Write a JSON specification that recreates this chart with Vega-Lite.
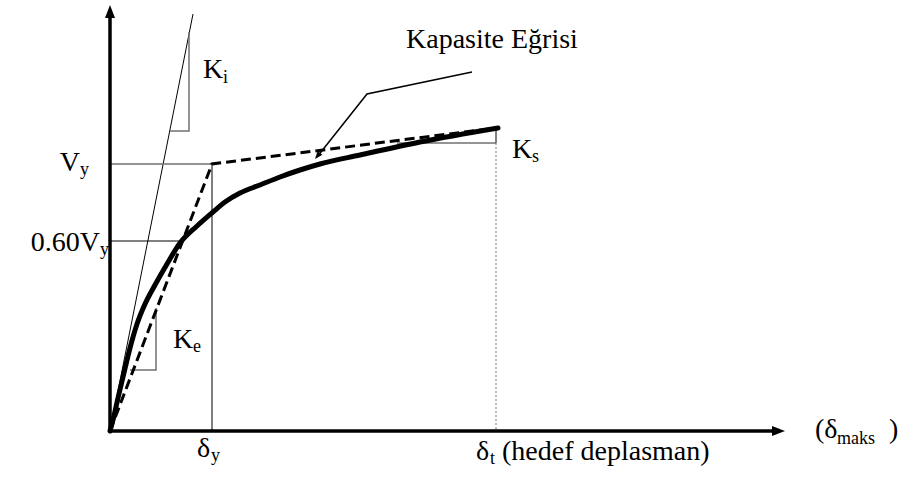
{
  "$schema": "https://vega.github.io/schema/vega-lite/v6.json",
  "width": 905,
  "height": 479,
  "autosize": {"type": "fit", "contains": "padding"},
  "padding": 0,
  "background": "white",
  "config": {"view": {"stroke": null}},
  "datasets": {
    "lines": [
      {"id": "yaxis", "i": 0, "x": 0, "y": 0},
      {"id": "yaxis", "i": 1, "x": 0, "y": 416},
      {"id": "xaxis", "i": 0, "x": 0, "y": 0},
      {"id": "xaxis", "i": 1, "x": 665, "y": 0},
      {"id": "ki", "i": 0, "x": 0, "y": 0},
      {"id": "ki", "i": 1, "x": 83, "y": 417},
      {"id": "ki_tri", "i": 0, "x": 60, "y": 300},
      {"id": "ki_tri", "i": 1, "x": 79, "y": 300},
      {"id": "ki_tri", "i": 2, "x": 79, "y": 399},
      {"id": "ke_tri", "i": 0, "x": 20, "y": 61},
      {"id": "ke_tri", "i": 1, "x": 46, "y": 61},
      {"id": "ke_tri", "i": 2, "x": 46, "y": 123},
      {"id": "ks_tri", "i": 0, "x": 287, "y": 288},
      {"id": "ks_tri", "i": 1, "x": 386, "y": 288},
      {"id": "vy_h", "i": 0, "x": 0, "y": 267},
      {"id": "vy_h", "i": 1, "x": 102, "y": 267},
      {"id": "dy_v", "i": 0, "x": 102, "y": 267},
      {"id": "dy_v", "i": 1, "x": 102, "y": 0},
      {"id": "v60_h", "i": 0, "x": 0, "y": 190},
      {"id": "v60_h", "i": 1, "x": 71, "y": 190},
      {"id": "ks_v", "i": 0, "x": 386, "y": 303},
      {"id": "ks_v", "i": 1, "x": 386, "y": 288},
      {"id": "dt_v", "i": 0, "x": 386, "y": 288},
      {"id": "dt_v", "i": 1, "x": 386, "y": 0},
      {"id": "bilinear", "i": 0, "x": 0, "y": 0},
      {"id": "bilinear", "i": 1, "x": 102, "y": 267},
      {"id": "bilinear", "i": 2, "x": 386, "y": 303},
      {"id": "pointer", "i": 0, "x": 362, "y": 359},
      {"id": "pointer", "i": 1, "x": 257, "y": 337},
      {"id": "pointer", "i": 2, "x": 207, "y": 274}
    ],
    "curve": [
      {"i": 0, "x": 0, "y": 0},
      {"i": 1, "x": 3, "y": 11},
      {"i": 2, "x": 8, "y": 33},
      {"i": 3, "x": 13, "y": 54},
      {"i": 4, "x": 20, "y": 83},
      {"i": 5, "x": 27, "y": 107},
      {"i": 6, "x": 35, "y": 127},
      {"i": 7, "x": 45, "y": 146},
      {"i": 8, "x": 57, "y": 167},
      {"i": 9, "x": 70, "y": 188},
      {"i": 10, "x": 87, "y": 205},
      {"i": 11, "x": 103, "y": 219},
      {"i": 12, "x": 115, "y": 229},
      {"i": 13, "x": 130, "y": 238},
      {"i": 14, "x": 150, "y": 246},
      {"i": 15, "x": 170, "y": 254},
      {"i": 16, "x": 190, "y": 261},
      {"i": 17, "x": 210, "y": 267},
      {"i": 18, "x": 250, "y": 276},
      {"i": 19, "x": 310, "y": 289},
      {"i": 20, "x": 388, "y": 303}
    ],
    "heads": [
      {"id": "yhead", "x": 0, "y": 426, "angle": 0},
      {"id": "xhead", "x": 675, "y": 0, "angle": 90}
    ],
    "pointerhead": [
      {"id": "phead", "x": 205, "y": 272, "angle": 219}
    ],
    "labels_left": [
      {"text": "Kapasite Eğrisi", "x": 296, "y": 383},
      {"text": "K", "x": 93, "y": 353},
      {"text": "K", "x": 63, "y": 83},
      {"text": "K", "x": 402, "y": 273},
      {"text": "δ", "x": 87, "y": -26},
      {"text": "δ", "x": 366, "y": -29},
      {"text": "(hedef deplasman)", "x": 392, "y": -29},
      {"text": "(δ", "x": 705, "y": -7},
      {"text": ")", "x": 779, "y": -7}
    ],
    "labels_right": [
      {"text": "V", "x": -30, "y": 260},
      {"text": "0.60V", "x": -10, "y": 180}
    ],
    "subs": [
      {"text": "y", "x": -30, "y": 256},
      {"text": "y", "x": -10, "y": 176},
      {"text": "i", "x": 113, "y": 348},
      {"text": "e", "x": 83, "y": 79},
      {"text": "s", "x": 422, "y": 269},
      {"text": "y", "x": 101, "y": -30},
      {"text": "t", "x": 380, "y": -33},
      {"text": "maks", "x": 727, "y": -13}
    ]
  },
  "encoding": {
    "x": {"field": "x", "type": "quantitative", "axis": null, "scale": {"domain": [-110, 795], "nice": false, "zero": false}},
    "y": {"field": "y", "type": "quantitative", "axis": null, "scale": {"domain": [-48, 431], "nice": false, "zero": false}}
  },
  "layer": [
    {
      "data": {"name": "lines"},
      "transform": [{"filter": "datum.id === 'ki' || datum.id === 'dy_v' || datum.id === 'v60_h' || datum.id === 'ks_v'"}],
      "mark": {"type": "line", "color": "black", "strokeWidth": 1},
      "encoding": {"detail": {"field": "id"}, "order": {"field": "i", "type": "quantitative"}}
    },
    {
      "data": {"name": "lines"},
      "transform": [{"filter": "datum.id === 'ki_tri' || datum.id === 'ke_tri' || datum.id === 'ks_tri' || datum.id === 'vy_h'"}],
      "mark": {"type": "line", "color": "#707070", "strokeWidth": 1.5},
      "encoding": {"detail": {"field": "id"}, "order": {"field": "i", "type": "quantitative"}}
    },
    {
      "data": {"name": "lines"},
      "transform": [{"filter": "datum.id === 'dt_v'"}],
      "mark": {"type": "line", "color": "#555555", "strokeWidth": 0.8, "strokeDash": [2, 2]},
      "encoding": {"detail": {"field": "id"}, "order": {"field": "i", "type": "quantitative"}}
    },
    {
      "data": {"name": "lines"},
      "transform": [{"filter": "datum.id === 'bilinear'"}],
      "mark": {"type": "line", "color": "black", "strokeWidth": 3, "strokeDash": [10, 5]},
      "encoding": {"detail": {"field": "id"}, "order": {"field": "i", "type": "quantitative"}}
    },
    {
      "data": {"name": "curve"},
      "mark": {"type": "line", "color": "black", "strokeWidth": 5, "interpolate": "monotone", "strokeCap": "round"},
      "encoding": {"order": {"field": "i", "type": "quantitative"}}
    },
    {
      "data": {"name": "lines"},
      "transform": [{"filter": "datum.id === 'pointer'"}],
      "mark": {"type": "line", "color": "black", "strokeWidth": 1.5},
      "encoding": {"detail": {"field": "id"}, "order": {"field": "i", "type": "quantitative"}}
    },
    {
      "data": {"name": "lines"},
      "transform": [{"filter": "datum.id === 'yaxis' || datum.id === 'xaxis'"}],
      "mark": {"type": "line", "color": "black", "strokeWidth": 3.5},
      "encoding": {"detail": {"field": "id"}, "order": {"field": "i", "type": "quantitative"}}
    },
    {
      "data": {"name": "heads"},
      "mark": {"type": "point", "shape": "M0,0L0.5,1.3L-0.5,1.3Z", "size": 400, "filled": true, "color": "black", "opacity": 1},
      "encoding": {"angle": {"field": "angle", "type": "quantitative", "scale": null}}
    },
    {
      "data": {"name": "pointerhead"},
      "mark": {"type": "point", "shape": "M0,0L0.5,1.3L-0.5,1.3Z", "size": 150, "filled": true, "color": "black", "opacity": 1},
      "encoding": {"angle": {"field": "angle", "type": "quantitative", "scale": null}}
    },
    {
      "data": {"name": "labels_left"},
      "mark": {"type": "text", "font": "'Liberation Serif', 'Times New Roman', serif", "fontSize": 28, "align": "left", "baseline": "alphabetic", "color": "black"},
      "encoding": {"text": {"field": "text"}}
    },
    {
      "data": {"name": "labels_right"},
      "mark": {"type": "text", "font": "'Liberation Serif', 'Times New Roman', serif", "fontSize": 28, "align": "right", "baseline": "alphabetic", "color": "black"},
      "encoding": {"text": {"field": "text"}}
    },
    {
      "data": {"name": "subs"},
      "mark": {"type": "text", "font": "'Liberation Serif', 'Times New Roman', serif", "fontSize": 18, "align": "left", "baseline": "alphabetic", "color": "black"},
      "encoding": {"text": {"field": "text"}}
    }
  ]
}
